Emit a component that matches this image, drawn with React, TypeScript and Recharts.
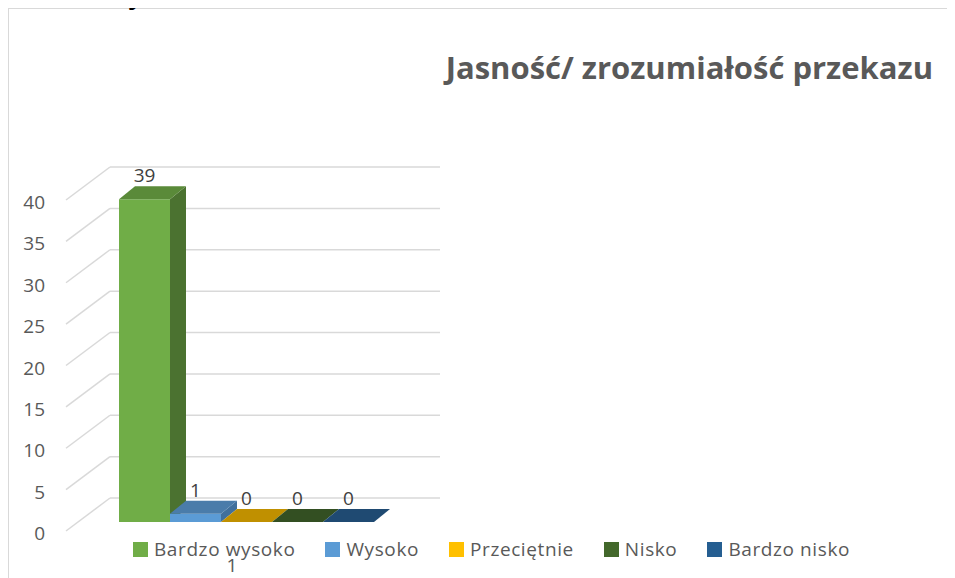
import React from "react";
import {
  BarChart,
  Bar,
  XAxis,
  YAxis,
  CartesianGrid,
  Legend,
  LabelList,
} from "recharts";

const categories = ["1"];
const seriesNames = ["Bardzo wysoko", "Wysoko", "Przeciętnie", "Nisko", "Bardzo nisko"];
const seriesValues = [39, 1, 0, 0, 0];
const yTicks = [0, 5, 10, 15, 20, 25, 30, 35, 40];

const frontColors = ["#70AD47", "#5B9BD5", "#FFC000", "#43682B", "#255E91"];
const topColors = ["#5A8A39", "#4A7CAA", "#C09000", "#334F22", "#1F4A72"];
const sideColors = ["#4B7230", "#41709C", "#A67D00", "#2B4320", "#1A3E60"];

const data = categories.map((name) => {
  const row: Record<string, string | number> = { name };
  seriesNames.forEach((s, i) => {
    row[s] = seriesValues[i];
  });
  return row;
});

const FONT = "'Open Sans', sans-serif";
const DEPTH_X = 16;
const DEPTH_Y = 13;
// 3d box: front plane and back wall relative to the bar plane
const FRONT_DX = -15;
const FRONT_DY = 9;
const BACK_DX = 29;
const BACK_DY = -24;

function makeShape(idx: number) {
  return (props: any) => {
    const { x, y, width, height } = props;
    const h = Math.max(height || 0, 0);
    const top = `${x},${y} ${x + width},${y} ${x + width + DEPTH_X},${y - DEPTH_Y} ${x + DEPTH_X},${y - DEPTH_Y}`;
    const side = `${x + width},${y} ${x + width + DEPTH_X},${y - DEPTH_Y} ${x + width + DEPTH_X},${y + h - DEPTH_Y} ${x + width},${y + h}`;
    return (
      <g>
        {h > 0 && <polygon points={side} fill={sideColors[idx]} />}
        {h > 0 && <rect x={x} y={y} width={width} height={h} fill={frontColors[idx]} />}
        <polygon points={top} fill={topColors[idx]} />
      </g>
    );
  };
}

const renderValueLabel = (props: any) => {
  const { x, y, width, value } = props;
  return (
    <text
      x={x + width / 2}
      y={y - 24}
      textAnchor="middle"
      dominantBaseline="central"
      fontFamily={FONT}
      fontSize={19}
      fill="#404040"
    >
      {value}
    </text>
  );
};

const renderGridLine = (props: any) => {
  const { x1, x2, y1 } = props;
  return (
    <g key={`g-${y1}`}>
      <line
        x1={x1 + FRONT_DX}
        y1={y1 + FRONT_DY}
        x2={x1 + BACK_DX}
        y2={y1 + BACK_DY}
        stroke="#D9D9D9"
        strokeWidth={1.5}
      />
      <line
        x1={x1 + BACK_DX}
        y1={y1 + BACK_DY}
        x2={x2 + BACK_DX}
        y2={y1 + BACK_DY}
        stroke="#D9D9D9"
        strokeWidth={1.5}
      />
    </g>
  );
};

const YTick = (props: any) => {
  const { y, payload } = props;
  return (
    <text
      x={36}
      y={y + 11}
      textAnchor="end"
      dominantBaseline="central"
      fontFamily={FONT}
      fontSize={19}
      fill="#595959"
    >
      {payload.value}
    </text>
  );
};

const XTick = (props: any) => {
  const { x, y, payload } = props;
  return (
    <text
      x={x - 14}
      y={y + 43}
      textAnchor="middle"
      dominantBaseline="central"
      fontFamily={FONT}
      fontSize={19}
      fill="#595959"
    >
      {payload.value}
    </text>
  );
};

const renderLegend = () => (
  <div style={{ display: "flex", alignItems: "center", fontFamily: FONT, fontSize: 19, color: "#595959", letterSpacing: 0.6 }}>
    {seriesNames.map((s, i) => (
      <div key={s} style={{ display: "flex", alignItems: "center", marginRight: 30 }}>
        <span style={{ width: 15, height: 15, background: frontColors[i], marginRight: 6, display: "inline-block" }} />
        <span>{s}</span>
      </div>
    ))}
  </div>
);

export default function App() {
  return (
    <div style={{ position: "relative", width: 946, height: 570, borderLeft: "1.5px solid #D9D9D9", borderTop: "1.5px solid #D9D9D9", background: "#fff" }}>
      <div
        style={{
          position: "absolute",
          right: 22,
          top: 38,
          lineHeight: "40px",
          fontFamily: FONT,
          fontWeight: 700,
          fontSize: 31,
          color: "#595959",
          whiteSpace: "nowrap",
        }}
      >
        Jasność/ zrozumiałość przekazu
      </div>
      <BarChart
        width={946}
        height={569}
        data={data}
        barGap={0}
        margin={{ top: 182, right: 544, left: 0, bottom: 26 }}
      >
        <CartesianGrid horizontal={renderGridLine} vertical={false} />
        <XAxis dataKey="name" height={30} axisLine={false} tickLine={false} tickSize={0} tickMargin={0} tick={<XTick />} />
        <YAxis
          width={72}
          domain={[0, 40]}
          ticks={yTicks}
          axisLine={false}
          tickLine={false}
          tick={<YTick />}
        />
        <Legend
          verticalAlign="middle"
          layout="horizontal"
          content={renderLegend}
          wrapperStyle={{ top: 527, left: 124, width: 800 }}
        />
        {seriesNames.map((s, i) => (
          <Bar key={s} dataKey={s} barSize={51} shape={makeShape(i)} isAnimationActive={false}>
            <LabelList dataKey={s} content={renderValueLabel} />
          </Bar>
        ))}
      </BarChart>
      <div
        style={{
          position: "absolute",
          left: 120,
          top: -38,
          fontFamily: FONT,
          fontSize: 30,
          color: "#000",
        }}
      >
        y
      </div>
    </div>
  );
}
